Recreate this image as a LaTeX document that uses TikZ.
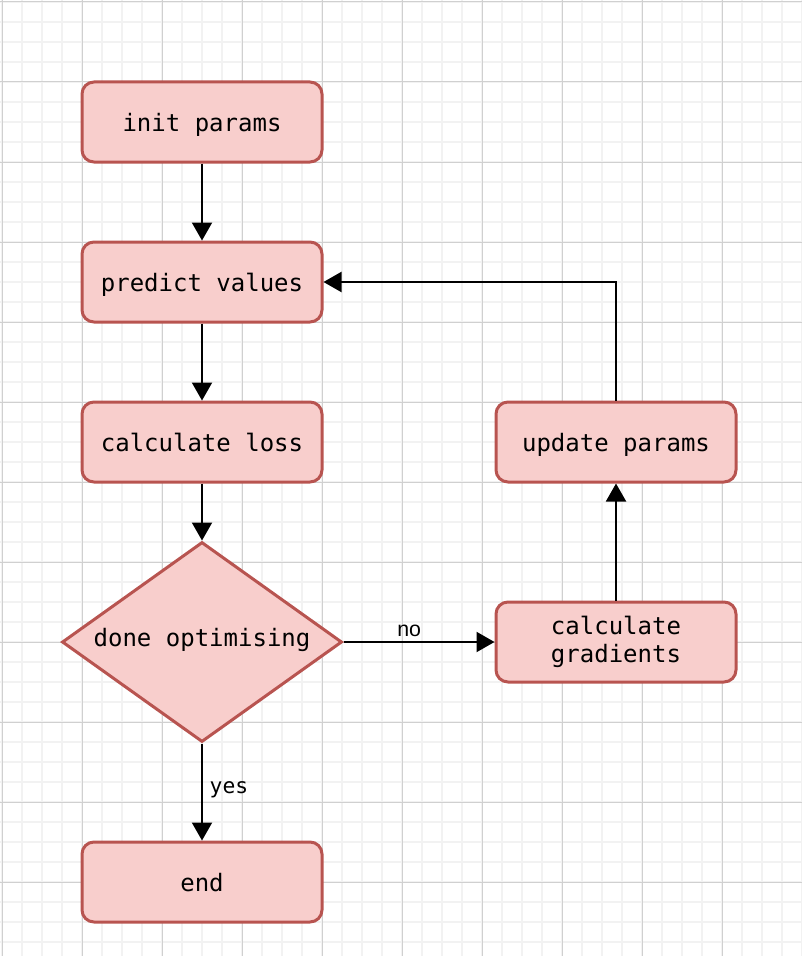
\documentclass[tikz,border=0pt]{standalone}
\usepackage{fontspec}
\setmonofont{DejaVu Sans Mono}
\setsansfont{Liberation Sans}
\usetikzlibrary{shapes.geometric,arrows.meta}
\definecolor{boxfill}{HTML}{F8CECC}
\definecolor{boxline}{HTML}{B85450}
\definecolor{minorgrid}{HTML}{F2F2F2}
\definecolor{majorgrid}{HTML}{D0D0D0}
\tikzset{
 stepbox/.style={draw=boxline, fill=boxfill, line width=2.25pt, rounded corners=9pt,
  minimum width=180pt, minimum height=60pt, inner sep=0pt, align=center,
  font=\ttfamily\fontsize{18pt}{20.6pt}\selectfont},
 oneline/.style={text height=18pt, text depth=4.5pt},
 decision/.style={draw=boxline, fill=boxfill, line width=2.25pt, diamond, shape aspect=1.4,
  minimum width=210pt, minimum height=150pt, inner sep=0pt,
  text height=11.5pt, text depth=4.5pt,
  font=\ttfamily\fontsize{18pt}{20.6pt}\selectfont},
 flow/.style={-{Triangle[length=13.5pt,width=15pt]}, line width=1.5pt}
}
\begin{document}
\begin{tikzpicture}[x=0.75pt, y=-0.75pt]
 \useasboundingbox (0,0) rectangle (802,956);
 \foreach \g in {2,22,...,802} \draw[minorgrid, line width=1.5pt] (\g,0) -- (\g,956);
 \foreach \g in {2,22,...,956} \draw[minorgrid, line width=1.5pt] (0,\g) -- (802,\g);
 \foreach \g in {2,82,...,802} \draw[majorgrid, line width=0.75pt] (\g,0) -- (\g,956);
 \foreach \g in {2,82,...,956} \draw[majorgrid, line width=0.75pt] (0,\g) -- (802,\g);

 \node[stepbox, oneline] (init) at (202,122) {init params};
 \node[stepbox, oneline] (predict) at (202,282) {predict values};
 \node[stepbox, oneline] (loss) at (202,442) {calculate loss};
 \node[decision] (done) at (202,642) {done optimising};
 \node[stepbox, oneline] (end) at (202,882) {end};
 \node[stepbox] (grads) at (616,642) {calculate\\gradients};
 \node[stepbox, oneline] (update) at (616,442) {update params};

 \draw[flow] (init) -- (predict);
 \draw[flow] (predict) -- (loss);
 \draw[flow] (loss) -- (done);
 \draw[flow] (done) -- node[pos=0.435, above=3.3pt, inner sep=0pt, font=\sffamily\fontsize{16pt}{18pt}\selectfont] (no) {no} (grads);
 \draw[flow] (done) -- node[midway, right=5pt, yshift=2pt, inner sep=0pt, font=\ttfamily\fontsize{16pt}{18pt}\selectfont] (yes) {yes} (end);
 \draw[flow] (grads) -- (update);
 \draw[flow] (update.north) |- (predict.east);
\end{tikzpicture}
\end{document}
